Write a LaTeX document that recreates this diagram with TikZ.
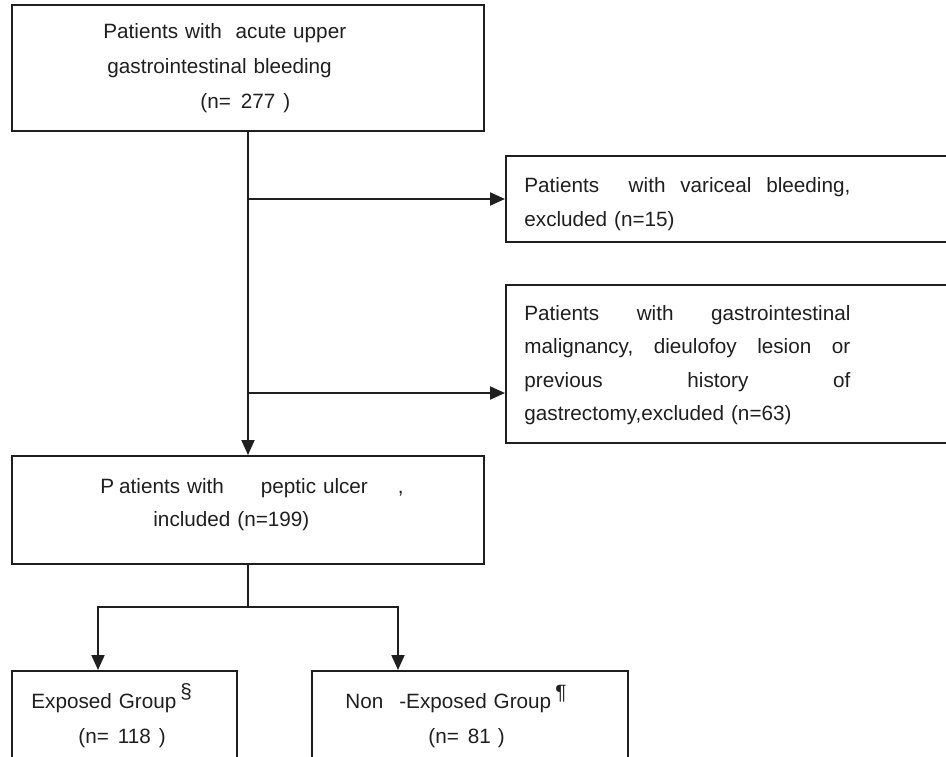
\documentclass[tikz,border=0pt]{standalone}
\usepackage{fontspec}
\newfontfamily\chartfont{Liberation Sans}
\usetikzlibrary{arrows.meta}
\tikzset{
  box/.style={draw=black!88, line width=1pt, anchor=north west, inner sep=0pt},
  txt/.style={font=\chartfont\fontsize{10.35}{#1}\selectfont, text=black!88, anchor=north west, inner sep=0pt, align=left},
  txt/.default=17,
  conn/.style={draw=black!88, line width=1pt},
  arr/.style={conn, -{Triangle[length=7.5pt,width=6.5pt]}},
}
\begin{document}
\begin{tikzpicture}[x=0.5pt,y=-0.5pt]
  \useasboundingbox (0,0) rectangle (946,756);
  \clip (0,0) rectangle (946,756);

  % boxes
  \node[box, minimum width=236pt, minimum height=63pt] (bleed) at (11,4) {};
  \node[box, minimum width=232pt, minimum height=43pt] (varic) at (505,155) {};
  \node[box, minimum width=232pt, minimum height=79pt] (malig) at (505,284) {};
  \node[box, minimum width=236pt, minimum height=54pt] (ulcer) at (11,455) {};
  \node[box, minimum width=112.5pt, minimum height=62pt] (expo) at (11,670) {};
  \node[box, minimum width=158pt, minimum height=62pt] (nonexpo) at (311,670) {};

  % texts
  \node[txt=17.5, text width=150pt] (bleedtext) at (103,23)
    {Patients with\ \ acute upper\\
     \hspace*{2pt}gastrointestinal bleeding\\
     \hspace*{48.5pt}(n=\hspace{5pt}277\hspace{4pt})};
  \node[txt, text width=163pt] (varictext) at (524,177)
    {Patients\hfill\hfill with\hfill variceal\hfill bleeding,\\
     excluded (n=15)};
  \node[txt=16.7, text width=163pt] (maligtext) at (524,305)
    {Patients\hfill with\hfill gastrointestinal\\
     malignancy,\hfill dieulofoy\hfill lesion\hfill or\\
     previous\hfill history\hfill of\hspace*{5.5pt}\\
     gastrectomy,excluded (n=63)};
  \node[txt=16.7, text width=200pt] (ulcertext) at (100,478)
    {P\hspace{2.5pt}atients with\hspace{18.5pt}peptic ulcer\hspace{15pt},\\
     \hspace*{26.5pt}included (n=199)};
  \node[txt=17.5, text width=100pt] (expotext) at (31,693)
    {Exposed Group\hspace{2pt}\raisebox{5pt}[0pt][0pt]{\S}\\
     \hspace*{23.5pt}(n=\hspace{4.5pt}118\hspace{4pt})};
  \node[txt=17.5, text width=140pt] (nonexpotext) at (345,693)
    {Non\hspace{8pt}-Exposed Group\hspace{2pt}\raisebox{4.5pt}[0pt][0pt]{\P}\\
     \hspace*{41.5pt}(n=\hspace{4.5pt}81\hspace{3.5pt})};

  % connectors
  \coordinate (b1) at (bleed.south |- varic.west);
  \coordinate (b2) at (bleed.south |- 0,393);
  \coordinate (fork) at (ulcer.south |- 0,607);
  \coordinate (forkL) at (98,607);
  \coordinate (forkR) at (398,607);

  \draw[arr] (bleed.south) -- (ulcer.north);
  \draw[arr] (b1) -- (varic.west);
  \draw[arr] (b2) -- (b2 -| malig.west);
  \draw[conn] (ulcer.south) -- (fork);
  \draw[arr] (fork) -- (forkL) -- (forkL |- expo.north);
  \draw[arr] (fork) -- (forkR) -- (forkR |- nonexpo.north);
\end{tikzpicture}
\end{document}
